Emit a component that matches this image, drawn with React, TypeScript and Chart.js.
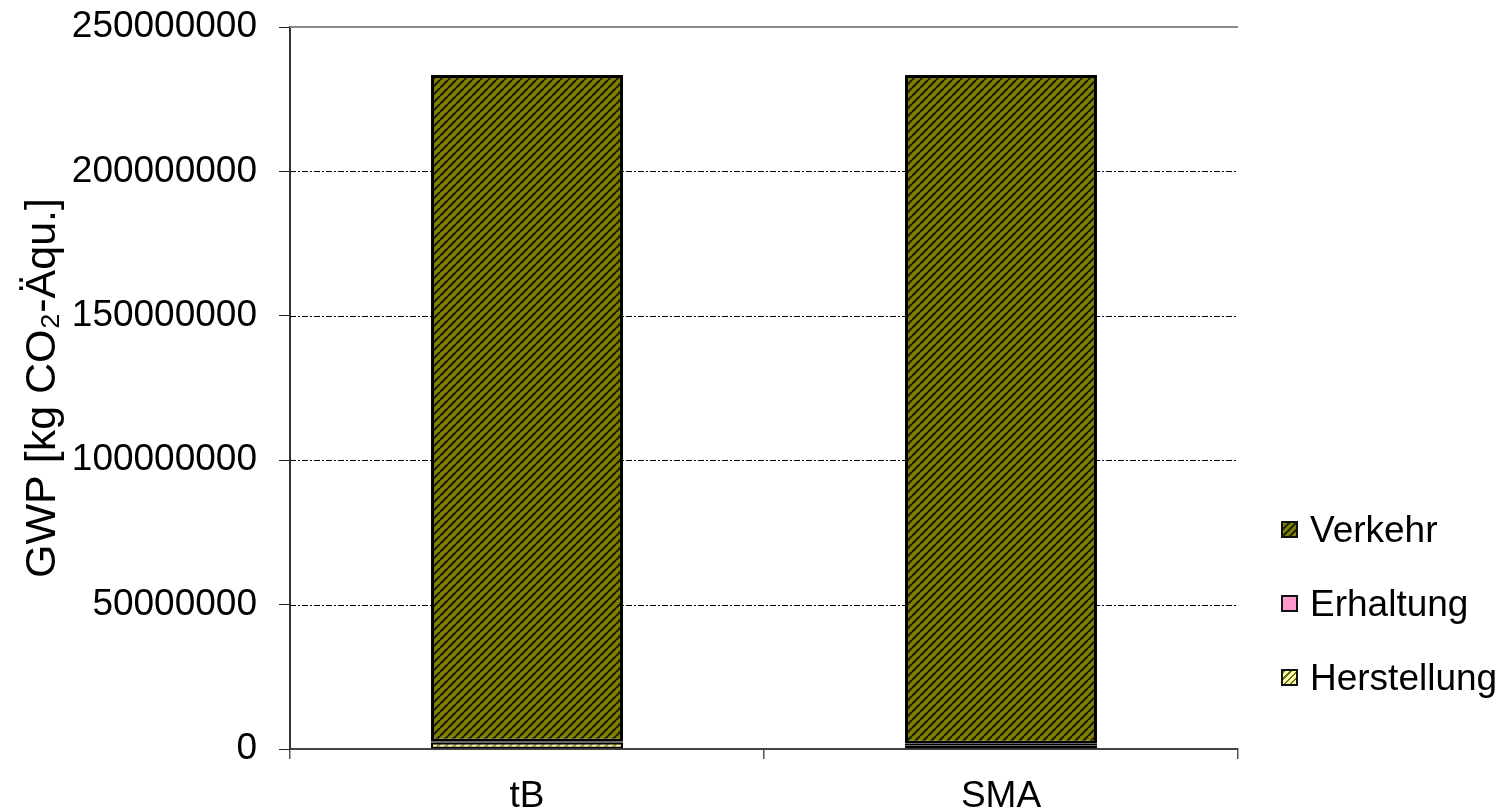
import React, { useEffect, useRef } from "react";
import { Chart, registerables } from "chart.js";

Chart.register(...registerables);

const categories = ["tB", "SMA"];
const herstellung = [2200000, 1300000];
const erhaltung = [300000, 500000];
const verkehr = [230900000, 231600000];
const yTicks = [0, 50000000, 100000000, 150000000, 200000000, 250000000];

const FONT = "Arial, 'Liberation Sans', sans-serif";
const FS = 37;

function makePattern(bg: string, stripe: string, size: number, lw: number) {
  const c = document.createElement("canvas");
  c.width = size;
  c.height = size;
  const g = c.getContext("2d")!;
  g.fillStyle = bg;
  g.fillRect(0, 0, size, size);
  g.strokeStyle = stripe;
  g.lineWidth = lw;
  for (let k = -1; k <= 1; k++) {
    g.beginPath();
    g.moveTo(k * size, size);
    g.lineTo(k * size + size, 0);
    g.stroke();
  }
  const ctx = document.createElement("canvas").getContext("2d")!;
  return ctx.createPattern(c, "repeat")!;
}

function Swatch({ kind }: { kind: "v" | "e" | "h" }) {
  const style: React.CSSProperties = {
    display: "inline-block",
    width: 17,
    height: 17,
    border: "2px solid #111",
    boxSizing: "border-box",
    marginRight: 12,
    verticalAlign: "middle",
    position: "relative",
    top: -3,
  };
  if (kind === "v")
    style.background =
      "repeating-linear-gradient(-45deg, #808000 0px, #808000 3px, #262600 3px, #262600 5px)";
  else if (kind === "h")
    style.background =
      "repeating-linear-gradient(-45deg, #FFFF99 0px, #FFFF99 3px, #6b6b3a 3px, #6b6b3a 4.5px)";
  else style.background = "#FF99CC";
  return <span style={style} />;
}

export default function App() {
  const ref = useRef<HTMLCanvasElement>(null);
  useEffect(() => {
    if (!ref.current) return;
    const vp = makePattern("#808000", "#1e1e00", 8, 2.2);
    const hp = makePattern("#FFFF99", "#8a8a40", 8, 2);
    const chart = new Chart(ref.current, {
      type: "bar",
      data: {
        labels: categories,
        datasets: [
          { label: "Herstellung", data: herstellung, backgroundColor: hp as any, borderColor: "#000", borderWidth: 2 },
          { label: "Erhaltung", data: erhaltung, backgroundColor: "#FF99CC", borderColor: "#000", borderWidth: 2 },
          { label: "Verkehr", data: verkehr, backgroundColor: vp as any, borderColor: "#000", borderWidth: 3 },
        ],
      },
      options: {
        animation: false,
        responsive: false,
        layout: { padding: { top: 27, right: 262, bottom: 0, left: 0 } },
        plugins: { legend: { display: false }, tooltip: { enabled: false } },
        datasets: { bar: { barPercentage: 0.405, categoryPercentage: 1, borderSkipped: false } },
        scales: {
          x: {
            stacked: true,
            offset: true,
            grid: { display: true, offset: true, drawOnChartArea: false, color: "#555", tickLength: 10, lineWidth: 1.5 },
            border: { display: true, color: "#444", width: 2 },
            ticks: { color: "#000", font: { family: FONT, size: FS }, padding: 16 },
            afterFit: (s: any) => { s.height = 60; s.paddingLeft = 0; s.paddingRight = 0; },
          },
          y: {
            stacked: true,
            min: 0,
            max: 250000000,
            afterBuildTicks: (s: any) => { s.ticks = yTicks.map((v) => ({ value: v })); },
            grid: {
              color: "#000",
              lineWidth: 1,
              tickLength: 11,
              drawTicks: true,
              drawOnChartArea: false,
              tickColor: "#222",
            } as any,
            border: { display: true, color: "#333", width: 2 },
            ticks: {
              color: "#000",
              font: { family: FONT, size: FS },
              padding: 22,
              callback: (v: any) => String(v),
            },
            title: {
              display: true,
              text: "GWP [kg CO\u2082-Äqu.]",
              color: "#000",
              font: { family: FONT, size: 43 },
              padding: { top: 17, bottom: 0 },
            },
            afterFit: (s: any) => { s.width = 290; s.paddingTop = 0; s.paddingBottom = 0; },
          },
        },
      },
      plugins: [
        {
          id: "dashgrid",
          beforeDatasetsDraw(c: any) {
            const { ctx, chartArea, scales } = c;
            ctx.save();
            ctx.strokeStyle = "#000";
            ctx.lineWidth = 1;
            ctx.setLineDash([6, 2, 2, 2]);
            for (const v of yTicks) {
              if (v === 0 || v === 250000000) continue;
              const y = Math.round(scales.y.getPixelForValue(v)) + 0.5;
              ctx.beginPath();
              ctx.moveTo(chartArea.left, y);
              ctx.lineTo(chartArea.right, y);
              ctx.stroke();
            }
            ctx.setLineDash([]);
            ctx.strokeStyle = "#8a8a8a";
            ctx.lineWidth = 2;
            const yt = Math.round(scales.y.getPixelForValue(250000000));
            ctx.beginPath();
            ctx.moveTo(chartArea.left, yt);
            ctx.lineTo(chartArea.right, yt);
            ctx.stroke();
            ctx.restore();
          },
        },
      ],
    } as any);
    return () => chart.destroy();
  }, []);

  const legendItem: React.CSSProperties = {
    fontFamily: FONT,
    fontSize: 37,
    color: "#000",
    height: 74,
    lineHeight: "40px",
    whiteSpace: "nowrap",
  };

  return (
    <div style={{ position: "absolute", left: 0, top: 0, width: 1500, height: 809, background: "#fff" }}>
      <canvas ref={ref} width={1500} height={809} style={{ display: "block" }} />
      <div style={{ position: "absolute", left: 1281, top: 510 }}>
        <div style={legendItem}><Swatch kind="v" />Verkehr</div>
        <div style={legendItem}><Swatch kind="e" />Erhaltung</div>
        <div style={legendItem}><Swatch kind="h" />Herstellung</div>
      </div>
    </div>
  );
}
